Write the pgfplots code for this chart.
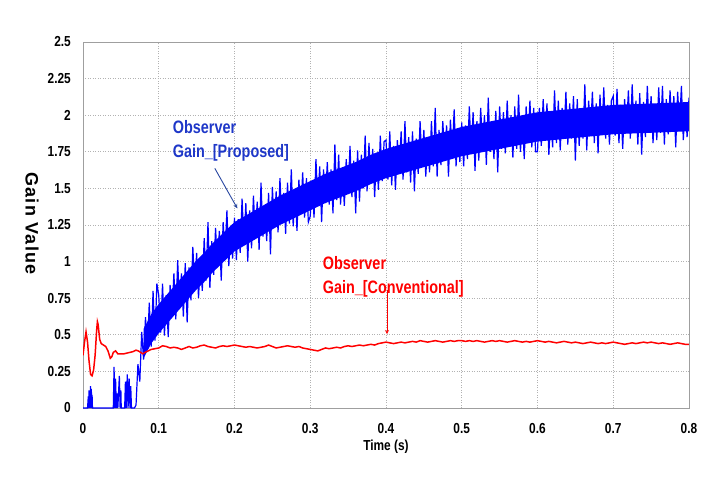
\documentclass[border=0pt]{standalone}
\usepackage{pgfplots}
\pgfplotsset{compat=1.18}
\usepackage{fontspec}
\setmainfont{Liberation Sans}
\newfontfamily\tickfont[FakeStretch=0.82]{Liberation Sans}
\newfontfamily\annfont[FakeStretch=0.8]{Liberation Sans}
\newfontfamily\ylabfont[LetterSpace=7]{Liberation Sans}
\definecolor{annblue}{RGB}{30,55,200}
\definecolor{arrblue}{RGB}{40,70,160}
\begin{document}
\begin{tikzpicture}
\path[use as bounding box] (-83bp,-69bp) rectangle (629bp,408bp);
\begin{axis}[
  at={(0,0)}, anchor=south west,
  scale only axis, width=606bp, height=366bp,
  xmin=0, xmax=0.8, ymin=0, ymax=2.5,
  xtick={0,0.1,0.2,0.3,0.4,0.5,0.6,0.7,0.8},
  ytick={0,0.25,0.5,0.75,1,1.25,1.5,1.75,2,2.25,2.5},
  yticklabels={0,0.25,0.5,0.75,1,1.25,1.5,1.75,2,2.25,2.5},
  xticklabels={0,0.1,0.2,0.3,0.4,0.5,0.6,0.7,0.8},
  tick style={draw=none},
  grid=major,
  major grid style={draw=gray!60, line width=0.9pt, dash pattern=on 1pt off 1.5pt},
  axis line style={gray!75, line width=0.8pt},
  tick label style={font=\tickfont\bfseries\fontsize{14.5bp}{14.5bp}\selectfont, inner sep=0pt},
  xticklabel style={anchor=north, yshift=-15bp},
  yticklabel style={anchor=east, xshift=-12bp},
  clip mode=individual,
]
% blue core band
\addplot[fill=blue, draw=none] coordinates {
(0.08,0.54)(0.09,0.64)(0.10,0.71)(0.11,0.77)(0.12,0.83)(0.13,0.89)(0.14,0.95)(0.15,1.01)(0.16,1.06)(0.17,1.12)(0.18,1.17)(0.19,1.22)(0.20,1.27)(0.22,1.33)(0.24,1.39)(0.26,1.45)(0.28,1.50)(0.30,1.55)(0.32,1.60)(0.34,1.64)(0.36,1.68)(0.38,1.73)(0.40,1.77)(0.43,1.815)(0.46,1.86)(0.50,1.92)(0.55,1.97)(0.60,2.02)(0.65,2.045)(0.70,2.07)(0.75,2.08)(0.80,2.09)
(0.80,1.89)(0.75,1.88)(0.70,1.87)(0.65,1.845)(0.60,1.82)(0.55,1.77)(0.50,1.72)(0.46,1.66)(0.43,1.615)(0.40,1.57)(0.38,1.53)(0.36,1.48)(0.34,1.44)(0.32,1.40)(0.30,1.35)(0.28,1.30)(0.26,1.25)(0.24,1.19)(0.22,1.13)(0.20,1.07)(0.19,1.02)(0.18,0.97)(0.17,0.92)(0.16,0.86)(0.15,0.81)(0.14,0.75)(0.13,0.69)(0.12,0.63)(0.11,0.57)(0.10,0.51)(0.09,0.44)(0.08,0.34)
};
% blue noisy series
\addplot[blue, line width=1.2pt] coordinates {
(0,0)(0.006,0)(0.007,0.08)(0.0075,0)(0.008,0.12)(0.0085,0)(0.009,0.10)(0.0095,0)(0.010,0.15)(0.0105,0)(0.011,0.13)(0.0115,0)(0.012,0.09)(0.0125,0)
(0.040,0)(0.041,0.28)(0.042,0)(0.043,0.20)(0.044,0)(0.0455,0.10)(0.046,0)(0.048,0.22)(0.049,0)(0.050,0.12)(0.0505,0)(0.055,0)(0.056,0.18)(0.057,0)(0.0585,0.23)(0.0595,0)(0.061,0.20)(0.062,0)(0.063,0.15)(0.064,0)(0.068,0)
(0.0700,0.02)(0.0725,0.30)(0.0750,0.18)(0.0775,0.52)(0.0800,0.33)(0.0825,0.62)(0.0850,0.40)(0.0875,0.72)(0.0900,0.42)(0.0925,0.80)(0.0950,0.46)(0.0975,0.85)
(0.1000,0.77)(0.1025,0.515)(0.1050,0.85)(0.1075,0.495)(0.1100,0.77)(0.1125,0.485)(0.1150,0.84)(0.1175,0.645)(0.1200,0.92)(0.1225,0.605)(0.1250,1.01)(0.1275,0.675)(0.1300,0.92)(0.1325,0.625)(0.1350,0.99)(0.1375,0.585)(0.1400,0.96)(0.1425,0.735)(0.1450,1.10)(0.1475,0.815)
(0.1500,1.06)(0.1525,0.75)(0.1550,1.02)(0.1575,0.80)(0.1600,1.16)(0.1625,0.87)(0.1650,1.27)(0.1675,0.82)(0.1700,1.14)(0.1725,0.91)(0.1750,1.23)(0.1775,0.97)(0.1800,1.21)(0.1825,0.87)(0.1850,1.27)(0.1875,1.05)(0.1900,1.35)(0.1925,0.97)(0.1950,1.24)(0.1975,1.02)
(0.2000,1.30)(0.2025,1.01)(0.2050,1.29)(0.2075,1.06)(0.2100,1.43)(0.2125,1.12)(0.2150,1.40)(0.2175,1.00)(0.2200,1.35)(0.2225,1.09)(0.2250,1.45)(0.2275,1.18)(0.2300,1.41)(0.2325,1.08)(0.2350,1.54)(0.2375,1.17)(0.2400,1.38)(0.2425,1.14)(0.2450,1.47)(0.2475,1.05)
(0.2500,1.51)(0.2525,1.23)(0.2550,1.48)(0.2575,1.20)(0.2600,1.57)(0.2625,1.28)(0.2650,1.47)(0.2675,1.19)(0.2700,1.54)(0.2725,1.26)(0.2750,1.63)(0.2775,1.24)(0.2800,1.48)(0.2825,1.21)(0.2850,1.56)(0.2875,1.33)(0.2900,1.61)(0.2925,1.30)(0.2950,1.57)(0.2975,1.27)
(0.3000,1.31)(0.3025,1.55)(0.3050,1.30)(0.3075,1.70)(0.3100,1.41)(0.3125,1.65)(0.3150,1.27)(0.3175,1.63)(0.3200,1.40)(0.3225,1.68)(0.3250,1.39)(0.3275,1.63)(0.3300,1.33)(0.3325,1.80)(0.3350,1.42)(0.3375,1.73)(0.3400,1.39)(0.3425,1.62)(0.3450,1.38)(0.3475,1.70)
(0.3500,1.48)(0.3525,1.79)(0.3550,1.44)(0.3575,1.69)(0.3600,1.33)(0.3625,1.76)(0.3650,1.41)(0.3675,1.73)(0.3700,1.50)(0.3725,1.86)(0.3750,1.48)(0.3775,1.81)(0.3800,1.56)(0.3825,1.77)(0.3850,1.44)(0.3875,1.74)(0.3900,1.49)(0.3925,1.86)(0.3950,1.55)(0.3975,1.82)
(0.4000,1.83)(0.4025,1.56)(0.4050,1.89)(0.4075,1.52)(0.4100,1.79)(0.4125,1.49)(0.4150,1.83)(0.4175,1.63)(0.4200,1.89)(0.4225,1.56)(0.4250,1.96)(0.4275,1.61)(0.4300,1.85)(0.4325,1.54)(0.4350,1.89)(0.4375,1.48)(0.4400,1.84)(0.4425,1.60)(0.4450,1.96)(0.4475,1.66)
(0.4500,1.90)(0.4525,1.58)(0.4550,1.83)(0.4575,1.61)(0.4600,1.96)(0.4625,1.65)(0.4650,2.05)(0.4675,1.58)(0.4700,1.90)(0.4725,1.66)(0.4750,1.96)(0.4775,1.70)(0.4800,1.93)(0.4825,1.58)(0.4850,1.97)(0.4875,1.74)(0.4900,2.04)(0.4925,1.65)(0.4950,1.90)(0.4975,1.68)
(0.5000,1.95)(0.5025,1.65)(0.5050,1.93)(0.5075,1.70)(0.5100,2.06)(0.5125,1.74)(0.5150,2.02)(0.5175,1.62)(0.5200,1.96)(0.5225,1.69)(0.5250,2.05)(0.5275,1.78)(0.5300,2.00)(0.5325,1.66)(0.5350,2.12)(0.5375,1.75)(0.5400,1.95)(0.5425,1.70)(0.5450,2.03)(0.5475,1.61)
(0.5500,2.06)(0.5525,1.77)(0.5550,2.02)(0.5575,1.74)(0.5600,2.10)(0.5625,1.80)(0.5650,2.00)(0.5675,1.71)(0.5700,2.06)(0.5725,1.77)(0.5750,2.14)(0.5775,1.75)(0.5800,1.98)(0.5825,1.70)(0.5850,2.06)(0.5875,1.82)(0.5900,2.10)(0.5925,1.78)(0.5950,2.05)(0.5975,1.75)
(0.6000,1.75)(0.6025,2.05)(0.6050,1.79)(0.6075,2.11)(0.6100,1.84)(0.6125,2.08)(0.6150,1.73)(0.6175,2.01)(0.6200,1.78)(0.6225,2.17)(0.6250,1.81)(0.6275,2.10)(0.6300,1.76)(0.6325,2.05)(0.6350,1.86)(0.6375,2.16)(0.6400,1.80)(0.6425,2.08)(0.6450,1.84)(0.6475,2.13)
(0.6500,1.69)(0.6525,2.11)(0.6550,1.79)(0.6575,2.04)(0.6600,1.84)(0.6625,2.21)(0.6650,1.76)(0.6675,2.10)(0.6700,1.89)(0.6725,2.16)(0.6750,1.81)(0.6775,2.08)(0.6800,1.74)(0.6825,2.14)(0.6850,1.87)(0.6875,2.19)(0.6900,1.84)(0.6925,2.07)(0.6950,1.80)(0.6975,2.10)
(0.7000,2.13)(0.7025,1.86)(0.7050,2.18)(0.7075,1.81)(0.7100,2.07)(0.7125,1.77)(0.7150,2.11)(0.7175,1.90)(0.7200,2.17)(0.7225,1.84)(0.7250,2.21)(0.7275,1.88)(0.7300,2.10)(0.7325,1.80)(0.7350,2.15)(0.7375,1.73)(0.7400,2.09)(0.7425,1.85)(0.7450,2.20)(0.7475,1.90)
(0.7500,2.13)(0.7525,1.81)(0.7550,2.06)(0.7575,1.83)(0.7600,2.19)(0.7625,1.88)(0.7650,2.20)(0.7675,1.80)(0.7700,2.11)(0.7725,1.87)(0.7750,2.17)(0.7775,1.90)(0.7800,2.13)(0.7825,1.78)(0.7850,2.16)(0.7875,1.93)(0.7900,2.20)(0.7925,1.83)(0.7950,2.08)(0.7975,1.85)(0.8000,2.12)
};
% red series
\addplot[red, line width=1.5pt] coordinates {
(0,0.36)(0.002,0.45)(0.004,0.52)(0.006,0.45)(0.008,0.32)(0.010,0.23)(0.012,0.22)(0.014,0.26)(0.016,0.36)(0.018,0.53)(0.019,0.59)(0.020,0.57)(0.022,0.47)(0.024,0.44)(0.027,0.43)(0.030,0.42)(0.033,0.39)(0.036,0.34)(0.038,0.35)(0.040,0.38)(0.043,0.39)(0.046,0.37)(0.050,0.37)(0.054,0.37)(0.058,0.375)(0.062,0.38)(0.066,0.385)(0.070,0.395)(0.073,0.39)(0.076,0.38)(0.079,0.37)(0.082,0.38)(0.086,0.39)(0.090,0.40)(0.095,0.405)
(0.100,0.41)(0.105,0.425)(0.110,0.42)(0.115,0.41)(0.120,0.415)(0.125,0.41)(0.130,0.40)(0.135,0.41)(0.140,0.42)(0.145,0.41)(0.150,0.415)(0.155,0.425)(0.160,0.43)(0.165,0.42)(0.170,0.415)(0.175,0.41)(0.180,0.42)(0.185,0.425)(0.190,0.42)(0.195,0.425)
(0.200,0.43)(0.205,0.425)(0.210,0.42)(0.215,0.415)(0.220,0.42)(0.225,0.415)(0.230,0.41)(0.235,0.415)(0.240,0.42)(0.245,0.43)(0.250,0.42)(0.255,0.41)(0.260,0.415)(0.265,0.42)(0.270,0.425)(0.275,0.42)(0.280,0.415)(0.285,0.42)(0.290,0.41)(0.295,0.405)
(0.300,0.40)(0.305,0.395)(0.310,0.39)(0.315,0.40)(0.320,0.41)(0.325,0.405)(0.330,0.41)(0.335,0.415)(0.340,0.41)(0.345,0.42)(0.350,0.425)(0.355,0.42)(0.360,0.425)(0.365,0.43)(0.370,0.425)(0.375,0.43)(0.380,0.435)(0.385,0.43)(0.390,0.44)(0.395,0.445)
(0.400,0.45)(0.405,0.445)(0.410,0.44)(0.415,0.445)(0.420,0.45)(0.425,0.445)(0.430,0.45)(0.435,0.455)(0.440,0.45)(0.445,0.46)(0.450,0.455)(0.455,0.45)(0.460,0.455)(0.465,0.46)(0.470,0.455)(0.475,0.45)(0.480,0.455)(0.485,0.46)(0.490,0.455)(0.495,0.46)
(0.500,0.46)(0.505,0.455)(0.510,0.46)(0.515,0.455)(0.520,0.46)(0.525,0.455)(0.530,0.45)(0.535,0.455)(0.540,0.46)(0.545,0.455)(0.550,0.46)(0.555,0.455)(0.560,0.45)(0.565,0.455)(0.570,0.46)(0.575,0.455)(0.580,0.45)(0.585,0.455)(0.590,0.45)(0.595,0.455)
(0.600,0.46)(0.605,0.455)(0.610,0.45)(0.615,0.455)(0.620,0.45)(0.625,0.445)(0.630,0.45)(0.635,0.455)(0.640,0.45)(0.645,0.445)(0.650,0.45)(0.655,0.445)(0.660,0.44)(0.665,0.445)(0.670,0.45)(0.675,0.445)(0.680,0.44)(0.685,0.445)(0.690,0.44)(0.695,0.445)
(0.700,0.45)(0.705,0.445)(0.710,0.44)(0.715,0.435)(0.720,0.44)(0.725,0.445)(0.730,0.44)(0.735,0.445)(0.740,0.45)(0.745,0.445)(0.750,0.45)(0.755,0.445)(0.760,0.44)(0.765,0.445)(0.770,0.44)(0.775,0.435)(0.780,0.44)(0.785,0.445)(0.790,0.44)(0.795,0.435)(0.800,0.435)
};
% annotations
\node[anchor=base west, inner sep=0pt, text=annblue, font=\annfont\bfseries\fontsize{18bp}{18bp}\selectfont] at (axis cs:0.1184,1.878) {Observer};
\node[anchor=base west, inner sep=0pt, text=annblue, font=\annfont\bfseries\fontsize{18bp}{18bp}\selectfont] at (axis cs:0.1184,1.708) {Gain\_[Proposed]};
\draw[arrblue, line width=0.9pt, -stealth] (axis cs:0.174,1.637) -- (axis cs:0.2037,1.364);
\node[anchor=base west, inner sep=0pt, text=red, font=\annfont\bfseries\fontsize{18bp}{18bp}\selectfont] at (axis cs:0.3164,0.947) {Observer};
\node[anchor=base west, inner sep=0pt, text=red, font=\annfont\bfseries\fontsize{18bp}{18bp}\selectfont] at (axis cs:0.3164,0.7835) {Gain\_[Conventional]};
\draw[red, line width=0.8pt, -stealth] (axis cs:0.4013,0.806) -- (axis cs:0.4013,0.505);
% axis labels
\node[rotate=-90, inner sep=0pt, font=\ylabfont\bfseries\fontsize{18bp}{18bp}\selectfont] at (axis description cs:-0.0842,0.504) {Gain Value};
\node[inner sep=0pt, font=\tickfont\bfseries\fontsize{14.5bp}{14.5bp}\selectfont] at (axis description cs:0.5,-0.1057) {Time (s)};
\end{axis}
\end{tikzpicture}
\end{document}
